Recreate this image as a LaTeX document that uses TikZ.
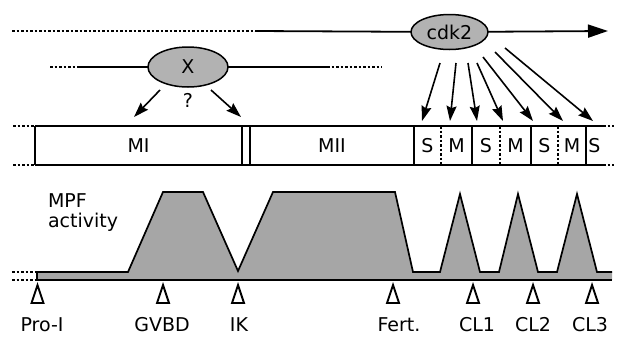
\documentclass[tikz,border=0pt]{standalone}
\usepackage{fontspec}
\setmainfont{DejaVu Sans}
\usetikzlibrary{arrows.meta,shapes.geometric,calc}
\tikzstyle{lbl}=[inner sep=0, outer sep=0, font=\fontsize{19}{20}\selectfont]
\tikzstyle{kinase}=[lbl, ellipse, draw, line width=1.5pt, fill=black!30]
\tikzstyle{cell}=[lbl, minimum height=39pt]
\tikzstyle{track}=[line width=1.8pt]
\tikzstyle{dots}=[line width=1.4pt, dash pattern=on 2.5pt off 2pt]
\tikzstyle{act}=[line width=1.6pt, -{Stealth[length=15pt,width=10pt,inset=2pt]}]
\tikzset{arrival/.pic={\draw[line width=1.9pt, line join=miter] (-6,9) -- (0,-9) -- (6,9) -- cycle;}}

\begin{document}
\begin{tikzpicture}[x=1pt, y=-1pt]
        \useasboundingbox (0,0) rectangle (619,338);
        % kinase time lines
        \node[kinase, minimum width=77pt, minimum height=35pt] (cdk2) at (449.5,32) {cdk2};
        \node[kinase, minimum width=80pt, minimum height=40pt] (X) at (188,67) {X};
        \node[lbl] (what) at ($(X.center)+(0,33)$) {?};
        \coordinate (topL) at (12,31);
        \coordinate (topM) at (255,31);
        \coordinate (topR) at (608,31);
        \coordinate (xL) at (50,67);
        \coordinate (xM) at (78,67);
        \coordinate (xN) at (327,67);
        \coordinate (xR) at (382,67);
        \draw[dots] (topL) -- (topM);
        \draw[track] (topM) -- (cdk2);
        \draw[track, -{Triangle[length=20pt,width=13pt]}] (cdk2) -- (topR);
        \draw[dots] (xL) -- (xM);
        \draw[track] (xM) -- (X) -- (xN);
        \draw[dots] (xN) -- (xR);
        % meiotic and cleavage stages
        \node[cell, minimum width=207pt] (MI) at (138.5,145.5) {MI};
        \node[cell, minimum width=164pt] (MII) at (332,145.5) {MII};
        \foreach \nm/\txt/\l/\r in {S1/S/414/441, M1/M/441/472, S2/S/472/500, M2/M/500/531,
                                   S3/S/531/558, M3/M/558/586, S4/S/586/603}
            \node[cell, minimum width={(\r-\l)*1pt}] (\nm) at ({(\l+\r)/2},145.5) {\txt};
        \coordinate (rowTL) at (13,126);
        \coordinate (rowBL) at (13,165);
        \coordinate (rowTR) at (614,126);
        \coordinate (rowBR) at (614,165);
        \draw[track] (MI.north west) -- (S4.north east);
        \draw[track] (MI.south west) -- (S4.south east);
        \draw[dots] (rowTL) -- (MI.north west);
        \draw[dots] (rowBL) -- (MI.south west);
        \draw[dots] (S4.north east) -- (rowTR);
        \draw[dots] (S4.south east) -- (rowBR);
        \foreach \c in {MI.west, MI.east, MII.west, S1.west, S2.west, S3.west, S4.west}
            \draw[track] (\c |- MI.north) -- (\c |- MI.south);
        \foreach \c in {M1, M2, M3}
            \draw[dots] (\c.north west) -- (\c.south west);
        % kinase actions
        \draw[act] ($(X.center)+(-28,23)$) -- ([xshift=-4.5pt, yshift=9pt]MI.north);
        \draw[act] ($(X.center)+(23,23)$) -- ([xshift=-1pt, yshift=9pt]MI.north east);
        \foreach \c/\dx/\dy/\tx in {S1/-9.5/31/-5.5, M1/6.5/31/-6.5, S2/18.5/31/-9,
                                   M2/27.5/31/-12.5, S3/33.5/25/-11.5, M3/45.5/20/-9, S4/55.5/16/-1.5}
            \draw[act] ($(cdk2.center)+(\dx,\dy)$) -- ([xshift=\tx pt, yshift=5pt]\c.north);
        % MPF activity
        \fill[black!35] (37,272) -- (128,272) -- (163,192) -- (203,192) -- (238,271) -- (273,192)
            -- (395,192) -- (413,272) -- (440,272) -- (460,194) -- (480,272) -- (499,272)
            -- (518,194) -- (538,272) -- (557,272) -- (577,194) -- (597,272) -- (612,272)
            -- (612,280) -- (37,280) -- cycle;
        \draw[line width=1.7pt, line join=miter] (37,280) -- (37,272) -- (128,272) -- (163,192) -- (203,192)
            -- (238,271) -- (273,192) -- (395,192) -- (413,272) -- (440,272) -- (460,194)
            -- (480,272) -- (499,272) -- (518,194) -- (538,272) -- (557,272) -- (577,194)
            -- (597,272) -- (612,272);
        \draw[line width=1.2pt] (37,280) -- (612,280);
        \draw[dots] (12,272) -- (37,272);
        \draw[dots] (12,280) -- (37,280);
        \node[lbl, align=left, anchor=north west] (mpf) at (48,194) {MPF\\activity};
        % events
        \foreach \nm/\x/\lx/\txt in {proI/37.5/42/Pro-I, gvbd/163/162/GVBD, ik/238/239/IK,
                                    fert/393/399/Fert., cl1/473/477/CL1, cl2/533/533/CL2, cl3/592/590/CL3}
        {
            \pic at (\x,294) {arrival};
            \node[lbl, anchor=base] (\nm) at (\lx,331) {\txt};
        }
    \end{tikzpicture}
\end{document}
